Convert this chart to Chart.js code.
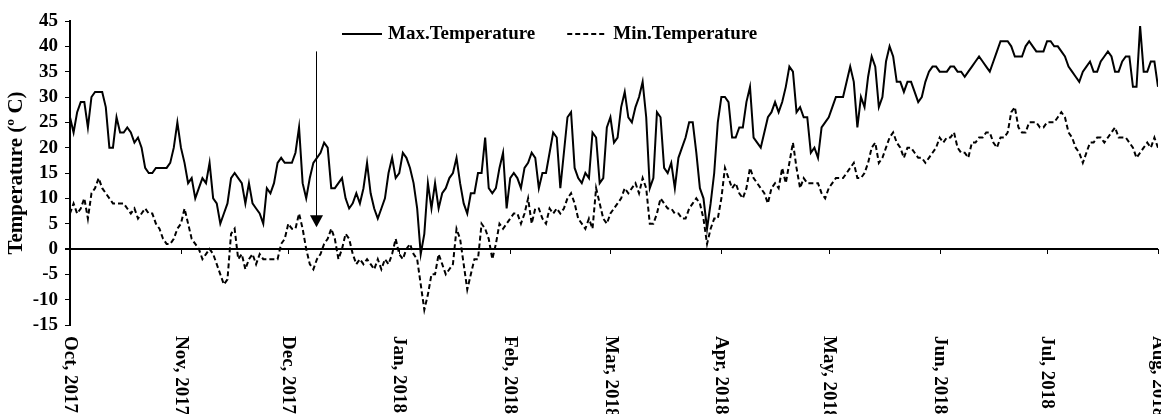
<!DOCTYPE html>
<html>
<head>
<meta charset="utf-8">
<script src="https://cdn.jsdelivr.net/npm/chart.js@4.4.0/dist/chart.umd.min.js"></script>
<style>
  body { margin: 0; background: #fff; }
  #wrap { width: 1161px; height: 414px; position: relative; }
</style>
</head>
<body>
<div id="wrap"><canvas id="chart"></canvas></div>
<script>
// month labels and the day (counted from 1 Oct 2017) on which each month starts
var monthLabels = ['Oct, 2017', 'Nov, 2017', 'Dec, 2017', 'Jan, 2018', 'Feb, 2018', 'Mar, 2018',
                   'Apr, 2018', 'May, 2018', 'Jun, 2018', 'Jul, 2018', 'Aug, 2018'];
var monthStart = [0, 31, 61, 92, 123, 151, 182, 212, 243, 273, 304];

// daily maximum temperature (deg C), one list per month
var maxOct = [26,23,27,29,29,24,30,31,31,31, 28,20,20,26,23,23,24,23,21,22, 20,16,15,15,16,16,16,16,17,20, 25];
var maxNov = [20,17,13,14,10,12,14,13,17,10, 9,5,7,9,14,15,14,13,9,13, 9,8,7,5,12,11,13,17,18,17];
var maxDec = [17,17,19,24,13,10,14,17,18,19, 21,20,12,12,13,14,10,8,9,11, 9,12,17,11,8,6,8,10,15,18, 14];
var maxJan = [15,19,18,16,13,8,-1,3,13,8, 13,8,11,12,14,15,18,13,9,7, 11,11,15,15,22,12,11,12,16,19, 8];
var maxFeb = [14,15,14,12,16,17,19,18,12,15, 15,19,23,22,12,19,26,27,16,14, 13,15,14,23,22,13,14,24];
var maxMar = [26,21,22,28,31,26,25,28,30,33, 26,12,14,27,26,16,15,17,12,18, 20,22,25,25,19,12,10,4,9,15, 25];
var maxApr = [30,30,29,22,22,24,24,29,32,22, 21,20,23,26,27,29,27,29,32,36, 35,27,28,26,26,19,20,18,24,25];
var maxMay = [26,28,30,30,30,33,36,33,24,30, 28,34,38,36,28,30,37,40,38,33, 33,31,33,33,31,29,30,33,35,36, 36];
var maxJun = [35,35,35,36,36,35,35,34,35,36, 37,38,37,36,35,37,39,41,41,41, 40,38,38,38,40,41,40,39,39,39];
var maxJul = [41,41,40,40,39,38,36,35,34,33, 35,36,37,35,35,37,38,39,38,35, 35,37,38,38,32,32,44,35,35,37, 37];
var maxAug = [32];

// daily minimum temperature (deg C), one list per month
var minOct = [7,9,7,8,10,6,11,12,14,12, 11,10,9,9,9,9,8,7,8,6, 7,8,7,7,5,4,2,1,1,2, 4];
var minNov = [5,8,5,2,1,0,-2,-1,0,-1, -3,-5,-7,-6,3,4,-2,-1,-4,-2, -1,-3,-1,-2,-2,-2,-2,-2,1,2];
var minDec = [5,4,4,7,4,0,-3,-4,-2,-1, 1,2,4,2,-2,0,3,2,-1,-3, -2,-3,-2,-3,-4,-2,-4,-2,-3,-1, 2];
var minJan = [-1,-2,0,1,-1,-2,-7,-12,-9,-5, -5,-1,-3,-5,-4,-3,4,2,-3,-8, -5,-2,-2,5,4,2,-2,1,5,4, 5];
var minFeb = [6,7,7,5,7,10,5,8,8,6, 5,8,7,8,7,8,10,11,9,6, 5,4,6,4,12,9,6,5];
var minMar = [7,8,9,10,12,11,12,13,11,14, 12,5,5,7,10,9,8,8,7,7, 6,6,8,9,10,9,6,1,4,6, 6];
var minApr = [10,16,14,12,13,11,10,12,16,14, 13,12,11,9,12,13,12,16,13,17, 21,16,12,14,13,13,13,13,11,10];
var minMay = [12,13,14,14,14,15,16,17,14,14, 15,17,20,21,17,18,20,22,23,21, 20,18,20,20,19,18,18,17,18,19, 20];
var minJun = [22,21,22,22,23,20,19,19,18,21, 21,22,22,23,23,21,20,22,22,23, 27,28,24,23,23,25,25,25,24,24];
var minJul = [25,25,25,26,27,26,23,22,20,19, 17,19,21,21,22,22,21,22,23,24, 22,22,22,21,20,18,19,20,21,20, 22];
var minAug = [20];

var maxTemp = [].concat(maxOct, maxNov, maxDec, maxJan, maxFeb, maxMar, maxApr, maxMay, maxJun, maxJul, maxAug);
var minTemp = [].concat(minOct, minNov, minDec, minJan, minFeb, minMar, minApr, minMay, minJun, minJul, minAug);

// the arrow marking a day in December (day index, from and to temperature)
var arrowDay = 68.7, arrowFrom = 39, arrowTo = 4.3;

var serif = '"Liberation Serif", "Times New Roman", serif';

function toPoints(list) {
    return list.map(function (v, i) { return { x: i, y: v }; });
}

// zero line ticks, month labels, arrow and legend
var extras = {
    id: 'extras',
    afterDraw: function (chart) {
        var ctx = chart.ctx, xs = chart.scales.x, ys = chart.scales.y, area = chart.chartArea;
        var y0 = ys.getPixelForValue(0);
        ctx.save();
        ctx.strokeStyle = '#000';
        ctx.fillStyle = '#000';
        ctx.lineWidth = 1;
        monthStart.forEach(function (d) {
            var px = Math.round(xs.getPixelForValue(d)) + 0.5;
            ctx.beginPath();
            ctx.moveTo(px, y0);
            ctx.lineTo(px, y0 + 5);
            ctx.stroke();
        });

        // month labels, rotated to read downwards
        ctx.font = 'bold 19px ' + serif;
        ctx.textAlign = 'left';
        ctx.textBaseline = 'middle';
        monthStart.forEach(function (d, i) {
            ctx.save();
            ctx.translate(xs.getPixelForValue(d), area.bottom + 11);
            ctx.rotate(Math.PI / 2);
            ctx.fillText(monthLabels[i], 0, 0);
            ctx.restore();
        });

        // arrow
        var ax = Math.round(xs.getPixelForValue(arrowDay)) + 0.5;
        var ay1 = ys.getPixelForValue(arrowFrom), ay2 = ys.getPixelForValue(arrowTo);
        ctx.beginPath();
        ctx.moveTo(ax, ay1);
        ctx.lineTo(ax, ay2 - 10);
        ctx.stroke();
        ctx.beginPath();
        ctx.moveTo(ax - 6.5, ay2 - 12);
        ctx.lineTo(ax + 6.5, ay2 - 12);
        ctx.lineTo(ax, ay2);
        ctx.closePath();
        ctx.fill();

        // legend
        ctx.font = 'bold 19px ' + serif;
        var lx = area.left + 272, ly = area.top + 13;
        chart.data.datasets.forEach(function (ds) {
            ctx.lineWidth = ds.borderWidth;
            ctx.setLineDash(ds.borderDash || []);
            ctx.beginPath();
            ctx.moveTo(lx, ly);
            ctx.lineTo(lx + 40, ly);
            ctx.stroke();
            ctx.setLineDash([]);
            ctx.fillText(ds.label, lx + 46, ly);
            lx += 46 + ctx.measureText(ds.label).width + 32;
        });
        ctx.restore();
    }
};

var ctx = document.getElementById('chart').getContext('2d');
var chart = new Chart(ctx, {
    type: 'line',
    data: {
        datasets: [{
            label: 'Max.Temperature',
            data: toPoints(maxTemp),
            borderColor: '#000',
            borderWidth: 2,
            pointRadius: 0,
            tension: 0
        }, {
            label: 'Min.Temperature',
            data: toPoints(minTemp),
            borderColor: '#000',
            borderWidth: 2,
            borderDash: [5, 3],
            pointRadius: 0,
            tension: 0
        }]
    },
    options: {
        responsive: true,
        maintainAspectRatio: false,
        animation: false,
        layout: { padding: { top: 21, right: 3, left: 0, bottom: 0 } },
        plugins: {
            legend: { display: false },
            tooltip: { enabled: false }
        },
        scales: {
            x: {
                type: 'linear',
                min: 0,
                max: 304,
                grid: { display: false },
                border: { display: false },
                ticks: { display: false },
                afterFit: function (scale) {
                    scale.height = 89;
                    scale.paddingLeft = 0;
                    scale.paddingRight = 0;
                }
            },
            y: {
                min: -15,
                max: 45,
                ticks: {
                    stepSize: 5,
                    autoSkip: false,
                    color: '#000',
                    padding: 7,
                    font: { family: serif, size: 19, weight: 'bold' }
                },
                grid: {
                    color: function (c) { return c.tick.value === 0 ? '#000' : 'rgba(0,0,0,0)'; },
                    lineWidth: function (c) { return c.tick.value === 0 ? 2 : 1; },
                    tickColor: '#000',
                    tickLength: 5
                },
                border: { display: true, color: '#000', width: 2 },
                title: {
                    display: true,
                    text: 'Temperature (º C)',
                    color: '#000',
                    padding: { top: 4, bottom: 0 },
                    font: { family: serif, size: 21, weight: 'bold' }
                },
                afterFit: function (scale) {
                    scale.width = 70;
                    scale.paddingTop = 0;
                }
            }
        }
    },
    plugins: [extras]
});
</script>
</body>
</html>
